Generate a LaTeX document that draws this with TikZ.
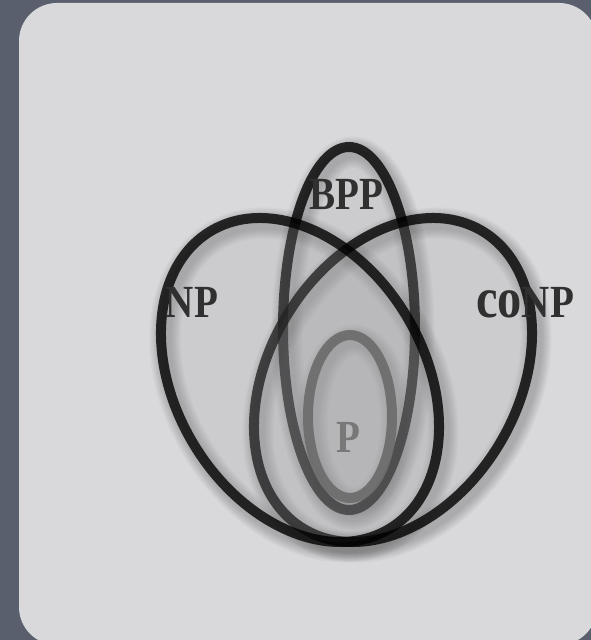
\documentclass[tikz,border=0pt]{standalone}
\usepackage{fontspec}
\usepackage{graphicx}
\newfontfamily\lbl[FakeStretch=0.85]{Liberation Serif}
\definecolor{bgdark}{HTML}{5A5F6D}
\definecolor{panel}{HTML}{D9D9DC}
\definecolor{fillgray}{HTML}{A0A0A2}
\definecolor{pring}{HTML}{6E6E6E}
\definecolor{labeldark}{HTML}{303030}
\definecolor{labelgray}{HTML}{787878}
\tikzset{
  vfill/.style={fill=fillgray, fill opacity=0.22},
  vring/.style={draw=black, draw opacity=0.8, line width=10},
  pfill/.style={fill=fillgray, fill opacity=0.15},
  pstroke/.style={draw=pring, draw opacity=0.95, line width=10},
  lbltxt/.style={font=\lbl\bfseries\fontsize{46}{50}\selectfont, text=labeldark, inner sep=0pt, anchor=base},
  npxf/.style={rotate around={-59:(300,260)}},
  conpxf/.style={rotate around={59:(393,260)}}
}
\begin{document}
\begin{tikzpicture}[x=1pt,y=1pt]
\useasboundingbox (0,0) rectangle (591,640);
\fill[bgdark] (0,0) rectangle (591,640);
\fill[panel, rounded corners=38pt] (19,-5) rectangle (597,637);
% soft shadows
\foreach \k in {1,...,7}{
  \begin{scope}[shift={(4,-5)}, draw=black, opacity=0.03, line width={10+3*\k}]
    \draw (349,311.5) ellipse [x radius=66, y radius=181.5];
    \draw[conpxf] (393,260) ellipse [x radius=173.6, y radius=124.2];
    \draw[npxf] (300,260) ellipse [x radius=173.6, y radius=124.2];
    \draw (350,223.5) ellipse [x radius=42, y radius=81.5];
  \end{scope}
}
% BPP
\path[vfill, vring] (349,311.5) ellipse [x radius=66, y radius=181.5];
% coNP
\path[vfill, vring, conpxf] (393,260) ellipse [x radius=173.6, y radius=124.2];
% NP
\path[vfill, vring, npxf] (300,260) ellipse [x radius=173.6, y radius=124.2];
% P
\path[pfill, pstroke] (350,223.5) ellipse [x radius=42, y radius=81.5];
% labels
\node[lbltxt] (npl) at (192,322) {NP};
\node[lbltxt] (bppl) at (346,430) {BPP};
\node[lbltxt] (conpl) at (525,322) {{\fontsize{57}{60}\selectfont co}NP};
\node[lbltxt, text=labelgray] (pl) at (348,187) {P};
\end{tikzpicture}
\end{document}
